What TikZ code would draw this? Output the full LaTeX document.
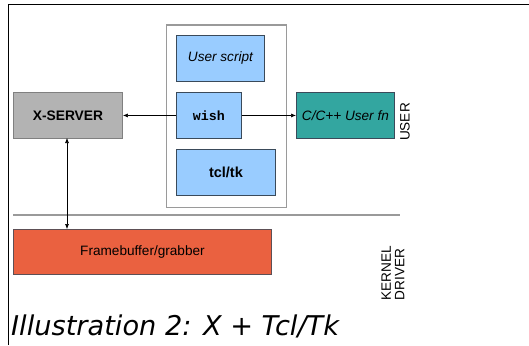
\documentclass[tikz,border=0pt]{standalone}
\usepackage{fontspec}
\setmainfont{Liberation Sans}
\setmonofont{Liberation Mono}
\newfontfamily\capfont{DejaVu Sans}
\usetikzlibrary{arrows.meta}
\definecolor{boxgray}{HTML}{B3B3B3}
\definecolor{boxblue}{HTML}{99CCFF}
\definecolor{boxteal}{HTML}{33A6A0}
\definecolor{boxred}{HTML}{EA6140}
\definecolor{edgegray}{HTML}{9A9A9A}
\definecolor{edgedark}{HTML}{3A4A5A}
\begin{document}
\begin{tikzpicture}[x=1pt,y=-1pt,
  lbl/.style={font=\fontsize{13.6}{15}\selectfont},
  blk/.style={draw=edgedark, line width=0.9pt, anchor=north west, inner sep=0pt, lbl},
  conn/.style={line width=0.6pt, -{Latex[length=5pt,width=4pt]}},
  ]
\useasboundingbox (0,0) rectangle (529,345);
\fill[white] (0,0) rectangle (529,345);
% frame
\draw[line width=1.4pt] (8.7,345) -- (8.7,4.3) -- (529,4.3);
% container
\node[draw=edgegray, line width=1.2pt, fill=white, anchor=north west, minimum width=120pt, minimum height=182pt, inner sep=0pt] (cont) at (165.5,24.5) {};
% boxes
\node[blk, fill=boxgray, draw=gray, minimum width=109pt, minimum height=46pt, font=\fontsize{13.8}{15}\selectfont\bfseries] (xs) at (13,92) {X-SERVER};
\node[blk, fill=boxblue, minimum width=88pt, minimum height=46pt, font=\fontsize{13.6}{15}\selectfont\itshape] (us) at (176,35) {User script};
\node[blk, fill=boxblue, minimum width=65pt, minimum height=46pt, font=\fontsize{13.3}{15}\selectfont\ttfamily\bfseries] (wish) at (176,92) {wish};
\node[blk, fill=boxblue, minimum width=99pt, minimum height=46pt, font=\fontsize{14.5}{15}\selectfont\bfseries] (tcl) at (176,149) {tcl/tk};
\node[blk, fill=boxteal, minimum width=98pt, minimum height=46pt, font=\fontsize{13.6}{15}\selectfont\itshape] (cfn) at (296,92) {C/C++ User fn};
\node[blk, fill=boxred, draw=edgedark!80!boxred, minimum width=258pt, minimum height=45pt] (fb) at (13,229) {Framebuffer/grabber};
% separator
\coordinate (sepL) at (13,215);
\coordinate (sepR) at (400,215);
\draw[edgegray, line width=1.2pt] (sepL) -- (sepR);
% connectors
\draw[conn] (wish.west) -- (xs.east);
\draw[conn] (wish.east) -- (cfn.west);
\coordinate (xsb) at (67,138);
\coordinate (fbt) at (67,229);
\draw[line width=0.6pt, {Latex[length=5pt,width=4pt]}-{Latex[length=5pt,width=4pt]}] (xsb) -- (fbt);
% side labels
\node[lbl, rotate=90, anchor=south, inner sep=0pt] (user) at (410,122) {USER};
\node[lbl, rotate=90, anchor=center, inner sep=0pt, align=left, font=\fontsize{13.6}{13.5}\selectfont] (kd) at (393,273) {KERNEL\\DRIVER};
% caption
\node[anchor=base west, inner sep=0pt, font=\capfont\itshape\fontsize{27.2}{30}\selectfont] (cap) at (11,335) {Illustration 2: X + Tcl/Tk};
\end{tikzpicture}
\end{document}
